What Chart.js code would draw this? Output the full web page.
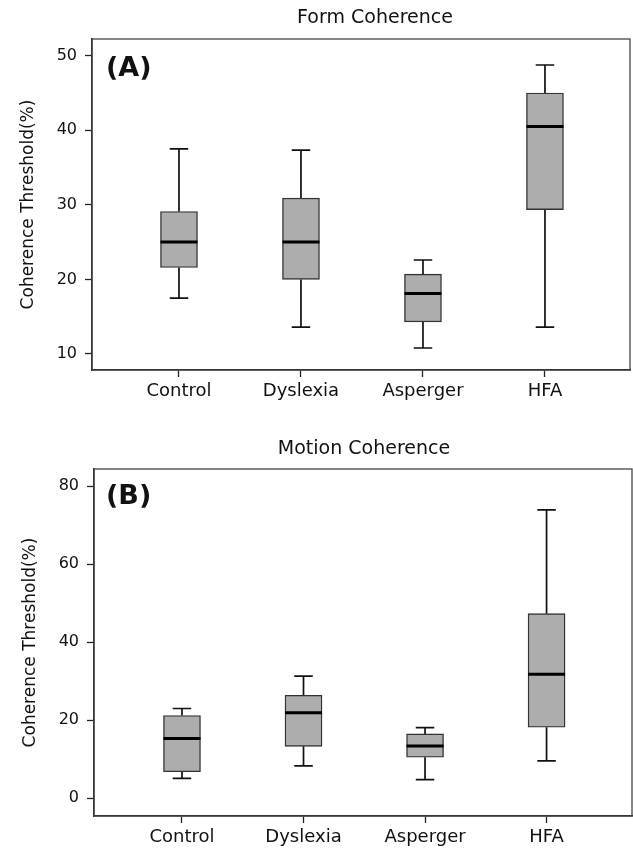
<!DOCTYPE html>
<html>
<head>
<meta charset="utf-8">
<script src="https://cdn.jsdelivr.net/npm/chart.js@4/dist/chart.umd.min.js"></script>
<style>
    html, body { margin: 0; padding: 0; background: #fff; }
    .panel { position: absolute; left: 0; }
    #panelA { top: 0; }
    #panelB { top: 420px; }
</style>
</head>
<body>
<div class="panel" id="panelA"><canvas id="formChart" width="633" height="420"></canvas></div>
<div class="panel" id="panelB"><canvas id="motionChart" width="633" height="429"></canvas></div>
<script>
const categories = ['Control', 'Dyslexia', 'Asperger', 'HFA']

// (A) form coherence
const formMin = [17.5, 13.6, 10.8, 13.6]
const formQ1 = [21.6, 20.0, 14.3, 29.35]
const formMedian = [25.0, 25.0, 18.1, 40.5]
const formQ3 = [29.1, 30.9, 20.7, 45.0]
const formMax = [37.5, 37.35, 22.6, 48.75]
const formTicks = [10, 20, 30, 40, 50]

// (B) motion coherence
const motionMin = [5.1, 8.3, 4.8, 9.6]
const motionQ1 = [6.8, 13.3, 10.5, 18.2]
const motionMedian = [15.3, 21.9, 13.4, 31.75]
const motionQ3 = [21.2, 26.4, 16.5, 47.3]
const motionMax = [23.0, 31.3, 18.1, 73.9]
const motionTicks = [0, 20, 40, 60, 80]

Chart.defaults.font.family = '"DejaVu Sans", sans-serif'
Chart.defaults.color = '#111'

function boxPlugin(stats, deco){
    return {
        id: 'boxPlot',
        afterDatasetsDraw(chart){
            const {ctx, scales: {x, y}} = chart
            const meta = chart.getDatasetMeta(0)
            ctx.save()
            stats.median.forEach((m, i) => {
                const cx = x.getPixelForValue(i + 1)
                const half = meta.data[i].width / 2
                const cap = half / 2
                const yMin = y.getPixelForValue(stats.min[i])
                const yMax = y.getPixelForValue(stats.max[i])
                const yQ1 = y.getPixelForValue(stats.q1[i])
                const yQ3 = y.getPixelForValue(stats.q3[i])
                ctx.strokeStyle = '#111'
                ctx.lineWidth = 1.7
                ctx.beginPath()
                ctx.moveTo(cx, yQ3); ctx.lineTo(cx, yMax)
                ctx.moveTo(cx, yQ1); ctx.lineTo(cx, yMin)
                ctx.moveTo(cx - cap, yMax); ctx.lineTo(cx + cap, yMax)
                ctx.moveTo(cx - cap, yMin); ctx.lineTo(cx + cap, yMin)
                ctx.stroke()

                const yMed = y.getPixelForValue(m)
                ctx.strokeStyle = '#000'
                ctx.lineWidth = 3
                ctx.beginPath()
                ctx.moveTo(cx - half, yMed); ctx.lineTo(cx + half, yMed)
                ctx.stroke()
            })
            ctx.restore()
        },
        afterDraw(chart){
            const {ctx, chartArea: a} = chart
            ctx.save()
            ctx.strokeStyle = '#444'
            ctx.lineWidth = 1.3
            ctx.strokeRect(a.left, a.top, a.right - a.left, a.bottom - a.top)

            ctx.fillStyle = '#111'
            ctx.textAlign = 'center'
            ctx.textBaseline = 'middle'
            ctx.font = '19px "DejaVu Sans"'
            ctx.fillText(deco.title, deco.titleX, deco.titleY)

            ctx.textAlign = 'left'
            ctx.font = 'bold 27px "DejaVu Sans"'
            ctx.fillText(deco.tag, deco.tagX, deco.tagY)
            ctx.restore()
        }
    }
}

function makeBoxChart(canvasId, stats, yTicks, view){
    const ctx = document.getElementById(canvasId).getContext('2d')
    return new Chart(ctx, {
        type: 'bar',
        data: {
            datasets: [{
                data: categories.map((c, i) => ({x: i + 1, y: [stats.q1[i], stats.q3[i]]})),
                backgroundColor: '#adadad',
                borderColor: '#333',
                borderWidth: 1.4,
                borderSkipped: false,
                barThickness: 37
            }]
        },
        options: {
            responsive: false,
            animation: false,
            devicePixelRatio: 1,
            layout: {padding: view.padding},
            plugins: {legend: {display: false}, tooltip: {enabled: false}},
            scales: {
                x: {
                    type: 'linear',
                    offset: false,
                    min: view.xMin,
                    max: view.xMax,
                    afterBuildTicks: scale => { scale.ticks = categories.map((c, i) => ({value: i + 1})) },
                    afterFit: scale => { scale.height = view.xHeight },
                    ticks: {
                        callback: v => categories[v - 1],
                        font: {size: 18},
                        padding: 4,
                        maxRotation: 0,
                        autoSkip: false
                    },
                    grid: {offset: false, drawOnChartArea: false, tickLength: 7, color: '#222', tickWidth: 1.3},
                    border: {display: true, color: '#222', width: 1.5}
                },
                y: {
                    min: view.yMin,
                    max: view.yMax,
                    afterBuildTicks: scale => { scale.ticks = yTicks.map(v => ({value: v})) },
                    afterFit: scale => { scale.width = view.yWidth },
                    ticks: {font: {size: 16}, padding: 8},
                    grid: {drawOnChartArea: false, tickLength: 7, color: '#222', tickWidth: 1.3},
                    border: {display: true, color: '#222', width: 1.5},
                    title: {
                        display: true,
                        text: 'Coherence Threshold(%)',
                        font: {size: 17},
                        padding: {top: view.titlePad, bottom: 0}
                    }
                }
            }
        },
        plugins: [boxPlugin(stats, view)]
    })
}

makeBoxChart('formChart',
    {min: formMin, q1: formQ1, median: formMedian, q3: formQ3, max: formMax},
    formTicks,
    {
        padding: {top: 39, right: 3, left: 0, bottom: 0},
        xMin: 0.287, xMax: 4.697, xHeight: 50,
        yMin: 7.85, yMax: 52.24, yWidth: 92, titlePad: 18,
        title: 'Form Coherence', titleX: 375, titleY: 18,
        tag: '(A)', tagX: 106, tagY: 69
    })

makeBoxChart('motionChart',
    {min: motionMin, q1: motionQ1, median: motionMedian, q3: motionQ3, max: motionMax},
    motionTicks,
    {
        padding: {top: 49, right: 1, left: 0, bottom: 0},
        xMin: 0.276, xMax: 4.703, xHeight: 33,
        yMin: -4.54, yMax: 84.36, yWidth: 94, titlePad: 20,
        title: 'Motion Coherence', titleX: 364, titleY: 29,
        tag: '(B)', tagX: 106, tagY: 77
    })
</script>
</body>
</html>
